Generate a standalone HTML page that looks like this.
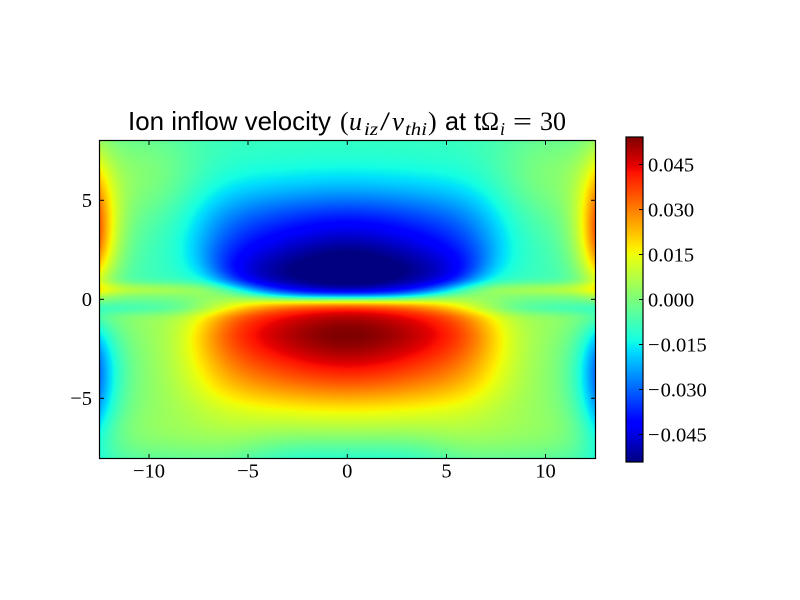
<!DOCTYPE html>
<html>
<head>
<meta charset="utf-8">
<style>
  html,body{margin:0;padding:0;background:#fff;}
  #wrap{position:relative;width:800px;height:600px;overflow:hidden;background:#fff;}
  #c{position:absolute;left:99px;top:140px;width:497px;height:319px;background:#7fff7f;}
  #cb{position:absolute;left:626px;top:137px;width:17px;height:325px;
    background:linear-gradient(to top,
      rgb(0,0,128) 0%, rgb(0,0,255) 11%, rgb(0,0,255) 12.5%, rgb(0,219,255) 34%,
      rgb(0,230,247) 35%, rgb(21,255,226) 37.5%, rgb(239,255,8) 64%, rgb(247,245,0) 65%,
      rgb(255,236,0) 66%, rgb(255,19,0) 89%, rgb(232,0,0) 91%, rgb(128,0,0) 100%);}
  svg{position:absolute;left:0;top:0;}
</style>
</head>
<body>
<div id="wrap">
<canvas id="c" width="497" height="319"></canvas>
<div id="cb"></div>
<svg width="800" height="600" viewBox="0 0 800 600" xmlns="http://www.w3.org/2000/svg">
  <rect x="99.5" y="140.5" width="496" height="318" fill="none" stroke="#000" stroke-width="1.2"/>
  <g stroke="#000" stroke-width="1">
    <line x1="149" y1="459" x2="149" y2="454"/>
    <line x1="248" y1="459" x2="248" y2="454"/>
    <line x1="347.3" y1="459" x2="347.3" y2="454"/>
    <line x1="446.5" y1="459" x2="446.5" y2="454"/>
    <line x1="545.5" y1="459" x2="545.5" y2="454"/>
    <line x1="149" y1="140" x2="149" y2="145"/>
    <line x1="248" y1="140" x2="248" y2="145"/>
    <line x1="347.3" y1="140" x2="347.3" y2="145"/>
    <line x1="446.5" y1="140" x2="446.5" y2="145"/>
    <line x1="545.5" y1="140" x2="545.5" y2="145"/>
    <line x1="99" y1="200.3" x2="104" y2="200.3"/>
    <line x1="99" y1="299.3" x2="104" y2="299.3"/>
    <line x1="99" y1="398.3" x2="104" y2="398.3"/>
    <line x1="596" y1="200.3" x2="591" y2="200.3"/>
    <line x1="596" y1="299.3" x2="591" y2="299.3"/>
    <line x1="596" y1="398.3" x2="591" y2="398.3"/>
  </g>
  <rect x="626" y="137" width="17" height="325" fill="none" stroke="#000" stroke-width="1.2"/>
  <g stroke="#000" stroke-width="1">
    <line x1="643" y1="164.5" x2="639" y2="164.5"/>
    <line x1="643" y1="209.5" x2="639" y2="209.5"/>
    <line x1="643" y1="254.5" x2="639" y2="254.5"/>
    <line x1="643" y1="299.5" x2="639" y2="299.5"/>
    <line x1="643" y1="344.5" x2="639" y2="344.5"/>
    <line x1="643" y1="389.5" x2="639" y2="389.5"/>
    <line x1="643" y1="434.5" x2="639" y2="434.5"/>
  </g>
  <g font-family="Liberation Serif, serif" font-size="20.5" fill="#000" text-anchor="middle">
    <text x="149" y="477.5">−10</text>
    <text x="248" y="477.5">−5</text>
    <text x="347.3" y="477.5">0</text>
    <text x="446.5" y="477.5">5</text>
    <text x="545.5" y="477.5">10</text>
  </g>
  <g font-family="Liberation Serif, serif" font-size="20.5" fill="#000" text-anchor="end">
    <text x="92" y="207">5</text>
    <text x="92" y="306">0</text>
    <text x="92" y="405">−5</text>
  </g>
  <g font-family="Liberation Serif, serif" font-size="20.5" fill="#000" text-anchor="start">
    <text x="648" y="171.5">0.045</text>
    <text x="648" y="216.5">0.030</text>
    <text x="648" y="261.5">0.015</text>
    <text x="648" y="306.5">0.000</text>
    <text x="648" y="351.5">−<tspan dx="1">0.015</tspan></text>
    <text x="648" y="396.5">−<tspan dx="1">0.030</tspan></text>
    <text x="648" y="441.5">−<tspan dx="1">0.045</tspan></text>
  </g>
  <!-- title -->
  <g fill="#000">
    <text x="128" y="130" font-family="Liberation Sans, sans-serif" font-size="26" textLength="203" lengthAdjust="spacingAndGlyphs">Ion inflow velocity</text>
    <text x="340" y="130" font-family="Liberation Serif, serif" font-size="26">(</text>
    <text x="349" y="130" font-family="Liberation Serif, serif" font-size="26" font-style="italic" textLength="13" lengthAdjust="spacingAndGlyphs">u</text>
    <text x="364" y="135" font-family="Liberation Serif, serif" font-size="18" font-style="italic" textLength="14" lengthAdjust="spacingAndGlyphs">iz</text>
    <text x="380" y="130" font-family="Liberation Serif, serif" font-size="26" textLength="10" lengthAdjust="spacingAndGlyphs">/</text>
    <text x="392" y="130" font-family="Liberation Serif, serif" font-size="26" font-style="italic" textLength="12" lengthAdjust="spacingAndGlyphs">v</text>
    <text x="405" y="135" font-family="Liberation Serif, serif" font-size="18" font-style="italic" textLength="22" lengthAdjust="spacingAndGlyphs">thi</text>
    <text x="428" y="130" font-family="Liberation Serif, serif" font-size="26">)</text>
    <text x="445" y="130" font-family="Liberation Sans, sans-serif" font-size="26" textLength="21" lengthAdjust="spacingAndGlyphs">at</text>
    <text x="474" y="130" font-family="Liberation Sans, sans-serif" font-size="26">t</text>
    <text x="481" y="130" font-family="Liberation Serif, serif" font-size="26" textLength="18" lengthAdjust="spacingAndGlyphs">Ω</text>
    <text x="500" y="135" font-family="Liberation Serif, serif" font-size="18" font-style="italic">i</text>
    <text x="513" y="130" font-family="Liberation Serif, serif" font-size="26" textLength="19" lengthAdjust="spacingAndGlyphs">=</text>
    <text x="540" y="130" font-family="Liberation Serif, serif" font-size="26" textLength="26" lengthAdjust="spacingAndGlyphs">30</text>
  </g>
</svg>
</div>
<script>
(function(){
  var PI4 = 4*Math.PI;
  function field(x,y){
    var ax = Math.abs(x);
    // background
    var v = -0.025 - 0.125*Math.tanh(y/0.6);
    if (y < -6) v -= 0.15*Math.pow((-6-y)/2,2);
    // central lobes
    var L = 1/(1+Math.exp((ax-7.2)/1.05));
    var Px = L*(0.78 + 0.22*Math.exp(-Math.pow(ax/4,2)));
    var w = 0.35 + 0.35*Math.pow(ax/5.5,4);
    var y0 = Math.min(0.5, 0.25*Math.pow(ax/6,3));
    var T = Math.tanh((y-y0)/w);
    var Q, d, A;
    if (y >= 0){
      d = Math.abs(y-1.4);
      Q = (1/(1+Math.exp((d-3.5)/0.95)))*(0.82+0.18*Math.exp(-Math.pow(d/1.5,2)));
      A = 0.97;
    } else {
      d = Math.abs(y+1.8);
      Q = (1/(1+Math.exp((d-3.1)/0.8)))*(0.82+0.18*Math.exp(-Math.pow(d/1.5,2)));
      A = 0.93;
    }
    v += -A*Px*Q*T;
    // thin band near midplane
    var fade = 1 - 0.9*Px;
    v += fade*(0.23*Math.exp(-Math.pow((y-0.5)/0.35,2)) - 0.15*Math.exp(-Math.pow((y+0.45)/0.35,2)));
    // bottom-centre halo
    v += -0.15*Math.exp(-Math.pow(ax/5,4))*Math.exp(-Math.pow((y+8)/1.5,2));
    // edge lobes
    var de = Math.max(0, PI4-ax);
    var sharp = Math.exp(-Math.pow(de/1.0,1.3));
    var sTop = (y > 3.5) ? 3.8 : 3.2;
    v += 0.78*sharp*Math.exp(-Math.pow((y-3.5)/sTop,2));
    v += 0.15*Math.exp(-Math.pow((de-2.5)/2.5,2))*Math.exp(-Math.pow((y-6.3)/2.5,2));
    var sBot = (y > -3.7) ? 3.2 : 3.8;
    v += -0.65*(0.75*sharp + 0.25*Math.exp(-de/3))*Math.exp(-Math.pow((y+3.7)/sBot,2));
    return v;
  }
  function seg(t,p){
    for (var i=0;i<p.length-1;i++){
      if (t <= p[i+1][0]) return p[i][1] + (p[i+1][1]-p[i][1])*(t-p[i][0])/(p[i+1][0]-p[i][0]);
    }
    return p[p.length-1][1];
  }
  var R=[[0,0],[0.35,0],[0.66,1],[0.89,1],[1,0.5]];
  var G=[[0,0],[0.125,0],[0.375,1],[0.64,1],[0.91,0],[1,0]];
  var B=[[0,0.5],[0.11,1],[0.34,1],[0.65,0],[1,0]];
  var c = document.getElementById('c');
  var ctx = c.getContext('2d');
  var W=497, H=319;
  var img = ctx.createImageData(W,H);
  var D = img.data;
  for (var j=0;j<H;j++){
    var Y = 140 + j + 0.5;
    var y = (299.3 - Y)/19.8;
    for (var i=0;i<W;i++){
      var X = 99 + i + 0.5;
      var x = (X - 347.3)/19.8;
      var v = field(x,y);
      var t = (v+1)/2;
      if (t<0) t=0; if (t>1) t=1;
      var k = (j*W+i)*4;
      D[k]   = Math.round(255*seg(t,R));
      D[k+1] = Math.round(255*seg(t,G));
      D[k+2] = Math.round(255*seg(t,B));
      D[k+3] = 255;
    }
  }
  ctx.putImageData(img,0,0);
})();
</script>
</body>
</html>
